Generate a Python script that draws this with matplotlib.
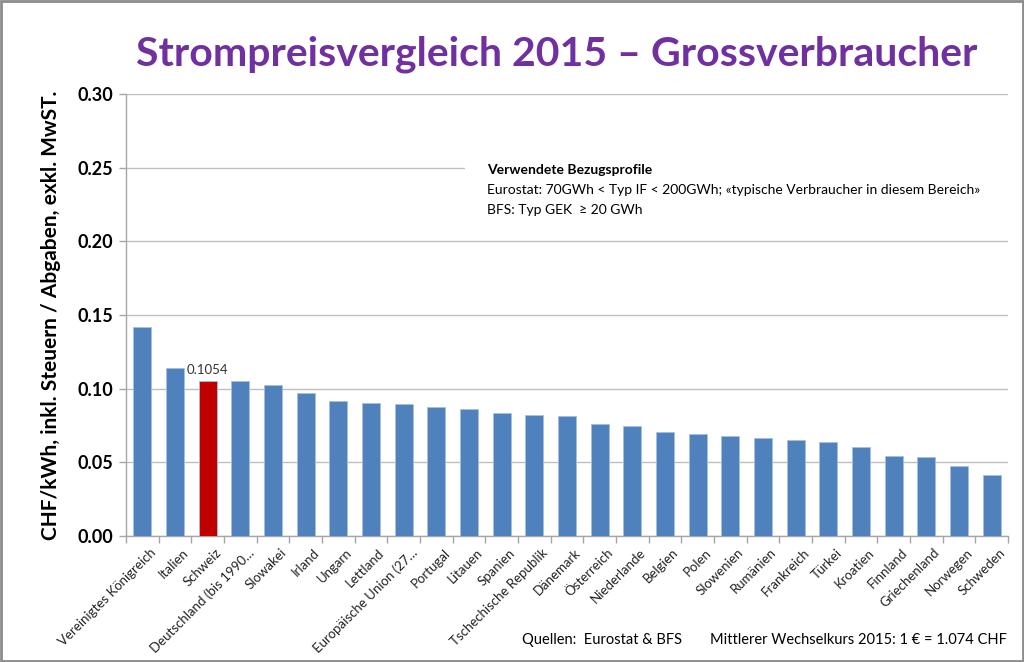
import matplotlib
matplotlib.use("Agg")
import matplotlib.pyplot as plt
from matplotlib.patches import Rectangle

countries = ["Vereinigtes Königreich", "Italien", "Schweiz", "Deutschland (bis 1990…",
             "Slowakei", "Irland", "Ungarn", "Lettland", "Europäische Union (27…",
             "Portugal", "Litauen", "Spanien", "Tschechische Republik", "Dänemark",
             "Österreich", "Niederlande", "Belgien", "Polen", "Slowenien", "Rumänien",
             "Frankreich", "Türkei", "Kroatien", "Finnland", "Griechenland", "Norwegen",
             "Schweden"]
values = [0.1418, 0.1140, 0.1054, 0.1050, 0.1023, 0.0969, 0.0919, 0.0905, 0.0896,
          0.0878, 0.0864, 0.0837, 0.0819, 0.0817, 0.0758, 0.0744, 0.0703, 0.0694,
          0.0676, 0.0663, 0.0653, 0.0640, 0.0604, 0.0545, 0.0536, 0.0473, 0.0414]
highlight = "Schweiz"
yticks = [0.00, 0.05, 0.10, 0.15, 0.20, 0.25, 0.30]

plt.rcParams['font.family'] = ['Lato', 'DejaVu Sans']

W, H = 1024, 662
fig = plt.figure(figsize=(W / 100, H / 100), dpi=100)
fig.patch.set_facecolor("white")

ax = fig.add_axes([126 / W, 1 - 536 / H, (1008 - 126) / W, (536 - 94) / H])
colors = ["#C00000" if c == highlight else "#4F81BD" for c in countries]
x = list(range(len(countries)))
ax.bar(x, values, width=0.56, color=colors, edgecolor="#A7C0DE", linewidth=0.6, zorder=3)
ax.set_xlim(-0.5, len(countries) - 0.5)
ax.set_ylim(0, 0.30)
ax.set_yticks(yticks)
ax.set_yticklabels([f"{v:.2f}" for v in yticks], fontsize=13, fontweight="bold")
ax.grid(axis="y", color="#BFBFBF", linewidth=1.0, zorder=0)
ax.set_axisbelow(True)

# category tick marks between categories (Excel style)
ax.set_xticks([i - 0.5 for i in range(len(countries) + 1)])
ax.set_xticklabels([])
ax.tick_params(axis="x", length=5, color="#A6A6A6", width=1)
ax.tick_params(axis="y", length=5, color="#A6A6A6", width=1, pad=4)
for i, c in enumerate(countries):
    ax.text(i + 0.22, -0.007, c, rotation=45, ha="right", va="top",
            rotation_mode="anchor", fontsize=9.5, color="#222222",
            transform=ax.transData)

for s in ["top", "right"]:
    ax.spines[s].set_visible(False)
for s in ["left", "bottom"]:
    ax.spines[s].set_color("#A6A6A6")
    ax.spines[s].set_linewidth(1.0)

# data label for Schweiz
idx = countries.index(highlight)
ax.text(idx, values[idx] + 0.003, f"{values[idx]:.4f}", ha="center", va="bottom",
        fontsize=9.5, color="#333333")

ax.set_ylabel("CHF/kWh, inkl. Steuern / Abgaben, exkl. MwST.", fontsize=15,
              fontweight="bold", labelpad=12)

# annotation box
fig.patches.append(Rectangle((465 / W, 1 - 228 / H), (1012 - 465) / W, (228 - 158) / H,
                             transform=fig.transFigure, facecolor="white",
                             edgecolor="none", zorder=5))
fig.text(487 / W, 1 - 170 / H, "Verwendete Bezugsprofile", fontsize=10,
         fontweight="bold", va="center", ha="left", zorder=6)
fig.text(487 / W, 1 - 190 / H,
         "Eurostat: 70GWh < Typ IF < 200GWh; «typische Verbraucher in diesem Bereich»",
         fontsize=10, va="center", ha="left", zorder=6)
fig.text(487 / W, 1 - 210 / H, "BFS: Typ GEK  ≥ 20 GWh", fontsize=10,
         va="center", ha="left", zorder=6)

# title
fig.text(557 / W, 1 - 54 / H, "Strompreisvergleich 2015 – Grossverbraucher",
         fontsize=29.5, fontweight="bold", color="#7030A0", ha="center", va="center")

# footer texts
fig.text(522 / W, 1 - 640 / H, "Quellen:  Eurostat & BFS", fontsize=10.5,
         ha="left", va="center")
fig.text(710 / W, 1 - 640 / H, "Mittlerer Wechselkurs 2015: 1 € = 1.074 CHF",
         fontsize=10.5, ha="left", va="center")

# border
fig.patches.append(Rectangle((1 / W, 1 / H), (W - 2) / W, (H - 2) / H,
                             transform=fig.transFigure, facecolor="none",
                             edgecolor="#8C8C8C", linewidth=2, zorder=10))

fig.savefig("out.png", dpi=100, facecolor="white")
